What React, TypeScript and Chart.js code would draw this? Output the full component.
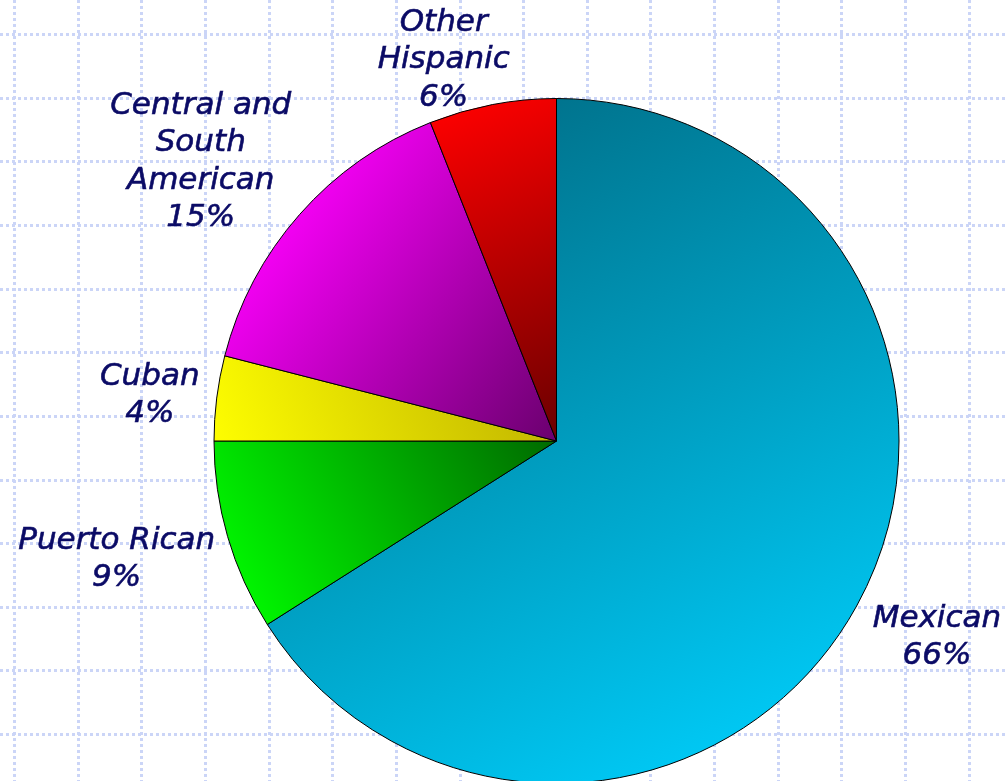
import React, { useEffect, useRef } from "react";
import { Chart, registerables } from "chart.js";

Chart.register(...registerables);

const categories = ["Mexican", "Puerto Rican", "Cuban", "Central and South American", "Other Hispanic"];
const labelLines = [["Mexican"], ["Puerto Rican"], ["Cuban"], ["Central and", "South", "American"], ["Other", "Hispanic"]];
const shares = [66, 9, 4, 15, 6];

// gradient styling per slice: [ax, ay, colorA, bx, by, colorB] in units of radius from centre
const gradients: [number, number, string, number, number, string][] = [
  [0.0, -1.0, "#00748e", 0.9, 0.85, "#00cefb"],
  [-0.9, 0.5, "#00f800", 0.0, 0.0, "#006a00"],
  [-1.0, 0.05, "#ffff00", -0.1, -0.3, "#c2b600"],
  [-0.8, -0.6, "#f200f2", 0.0, 0.0, "#6a006e"],
  [-0.4, -0.95, "#ff0000", 0.0, 0.0, "#6a0000"],
];
// label placement: [angle offset in degrees, distance factor of radius]
const labelPlace: [number, number][] = [
  [-1.5, 1.25],
  [1.1, 1.33],
  [-0.8, 1.195],
  [-3.3, 1.32],
  [-5.7, 1.16],
];

const gridPlugin = {
  id: "bgGrid",
  beforeDraw(chart: any) {
    const ctx = chart.ctx as CanvasRenderingContext2D;
    const W = chart.width, H = chart.height;
    ctx.save();
    ctx.strokeStyle = "#cbd5f7";
    ctx.lineWidth = 3;
    ctx.setLineDash([3, 3]);
    const step = 63.65;
    for (let x = 14; x < W; x += step) {
      ctx.beginPath();
      ctx.moveTo(Math.round(x) + 0.5, 0);
      ctx.lineTo(Math.round(x) + 0.5, H);
      ctx.stroke();
    }
    for (let y = 34 - step; y < H; y += step) {
      if (y < 0) continue;
      ctx.beginPath();
      ctx.moveTo(0, Math.round(y) + 0.5);
      ctx.lineTo(W, Math.round(y) + 0.5);
      ctx.stroke();
    }
    ctx.restore();
  },
};

const labelPlugin = {
  id: "sliceLabels",
  afterDraw(chart: any) {
    const ctx = chart.ctx as CanvasRenderingContext2D;
    const meta = chart.getDatasetMeta(0);
    ctx.save();
    ctx.fillStyle = "#0b0b66";
    ctx.strokeStyle = "#0b0b66";
    ctx.lineWidth = 0.6;
    ctx.font = "italic 31px 'DejaVu Sans', Verdana, sans-serif";
    ctx.textAlign = "center";
    ctx.textBaseline = "middle";
    const total = shares.reduce((a, b) => a + b, 0);
    meta.data.forEach((arc: any, i: number) => {
      const p = arc.getProps(["x", "y", "startAngle", "endAngle", "outerRadius"], true);
      const [off, k] = labelPlace[i];
      const mid = (p.startAngle + p.endAngle) / 2 + (off * Math.PI) / 180;
      const cx = p.x + Math.cos(mid) * p.outerRadius * k;
      const cy = p.y + Math.sin(mid) * p.outerRadius * k;
      const lines = [...labelLines[i], Math.round((shares[i] / total) * 100) + "%"];
      const lh = 37.5;
      lines.forEach((t, j) => {
        const ty = cy + (j - (lines.length - 1) / 2) * lh;
        ctx.fillText(t, cx, ty);
        ctx.strokeText(t, cx, ty);
      });
    });
    ctx.restore();
  },
};

export default function App() {
  const ref = useRef<HTMLCanvasElement | null>(null);
  useEffect(() => {
    document.body.style.margin = "0";
    const canvas = ref.current!;
    const chart = new Chart(canvas, {
      type: "pie",
      data: {
        labels: categories,
        datasets: [
          {
            data: shares,
            borderColor: "#000000",
            borderWidth: 1,
            backgroundColor: (context: any) => {
              const c = context.chart;
              const area = c.chartArea;
              const g = gradients[context.dataIndex] || gradients[0];
              if (!area) return g[5];
              const cx = (area.left + area.right) / 2;
              const cy = (area.top + area.bottom) / 2;
              const r = Math.min(area.right - area.left, area.bottom - area.top) / 2;
              const grad = c.ctx.createLinearGradient(cx + g[0] * r, cy + g[1] * r, cx + g[3] * r, cy + g[4] * r);
              grad.addColorStop(0, g[2]);
              grad.addColorStop(1, g[5]);
              return grad;
            },
          },
        ],
      },
      options: {
        responsive: false,
        animation: false,
        devicePixelRatio: 1,
        layout: { padding: { left: 213, right: 107, top: 98, bottom: 16 } },
        plugins: { legend: { display: false }, tooltip: { enabled: false } },
      },
      plugins: [gridPlugin, labelPlugin],
    });
    return () => chart.destroy();
  }, []);
  return (
    <div style={{ position: "absolute", left: 0, top: 0, width: 1007, height: 781, overflow: "hidden", background: "#ffffff" }}>
      <canvas ref={ref} width={1007} height={800} style={{ display: "block", width: 1007, height: 800 }} />
    </div>
  );
}
